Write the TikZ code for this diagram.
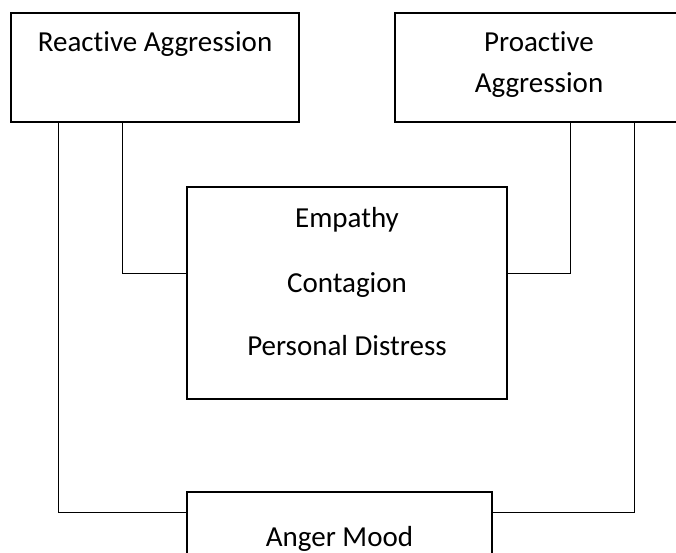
\documentclass[tikz,border=0pt]{standalone}
\usepackage{fontspec}
\setmainfont{Carlito}[Ligatures={NoCommon}]
\begin{document}
\begin{tikzpicture}[x=1pt,y=-1pt,
  box/.style={draw=black,line width=1.6pt,rectangle,inner sep=0pt,fill=none},
  lbl/.style={anchor=base,inner sep=0pt,font=\fontsize{29}{33}\selectfont},
  conn/.style={draw=black,line width=1.4pt}]
\clip (0,0) rectangle (676,553);
\fill[white] (0,0) rectangle (676,553);
\node[box,minimum width=288pt,minimum height=109pt] (ra) at (155,67.5) {};
\node[box,minimum width=288pt,minimum height=109pt] (pa) at (539,67.5) {};
\node[box,minimum width=320pt,minimum height=212pt] (em) at (347,293) {};
\node[box,minimum width=305pt,minimum height=108pt] (am) at (339.5,546) {};
\node[lbl] (t1) at (155,52) {Reactive Aggression};
\node[lbl] (t2) at (539,52) {Proactive};
\node[lbl] (t3) at (539,93) {Aggression};
\node[lbl] (t4) at (347,227) {Empathy};
\node[lbl] (t5) at (347,292) {Contagion};
\node[lbl] (t6) at (347,355) {Personal Distress};
\node[lbl] (t7) at (339.5,546) {Anger Mood};
\draw[conn] ([xshift=48pt]ra.south west) |- ([yshift=-21pt]am.north west);
\draw[conn] ([xshift=112pt]ra.south west) |- ([yshift=-87pt]em.north west);
\draw[conn] ([xshift=176pt]pa.south west) |- ([yshift=-87pt]em.north east);
\draw[conn] ([xshift=240pt]pa.south west) |- ([yshift=-21pt]am.north east);
\end{tikzpicture}
\end{document}
